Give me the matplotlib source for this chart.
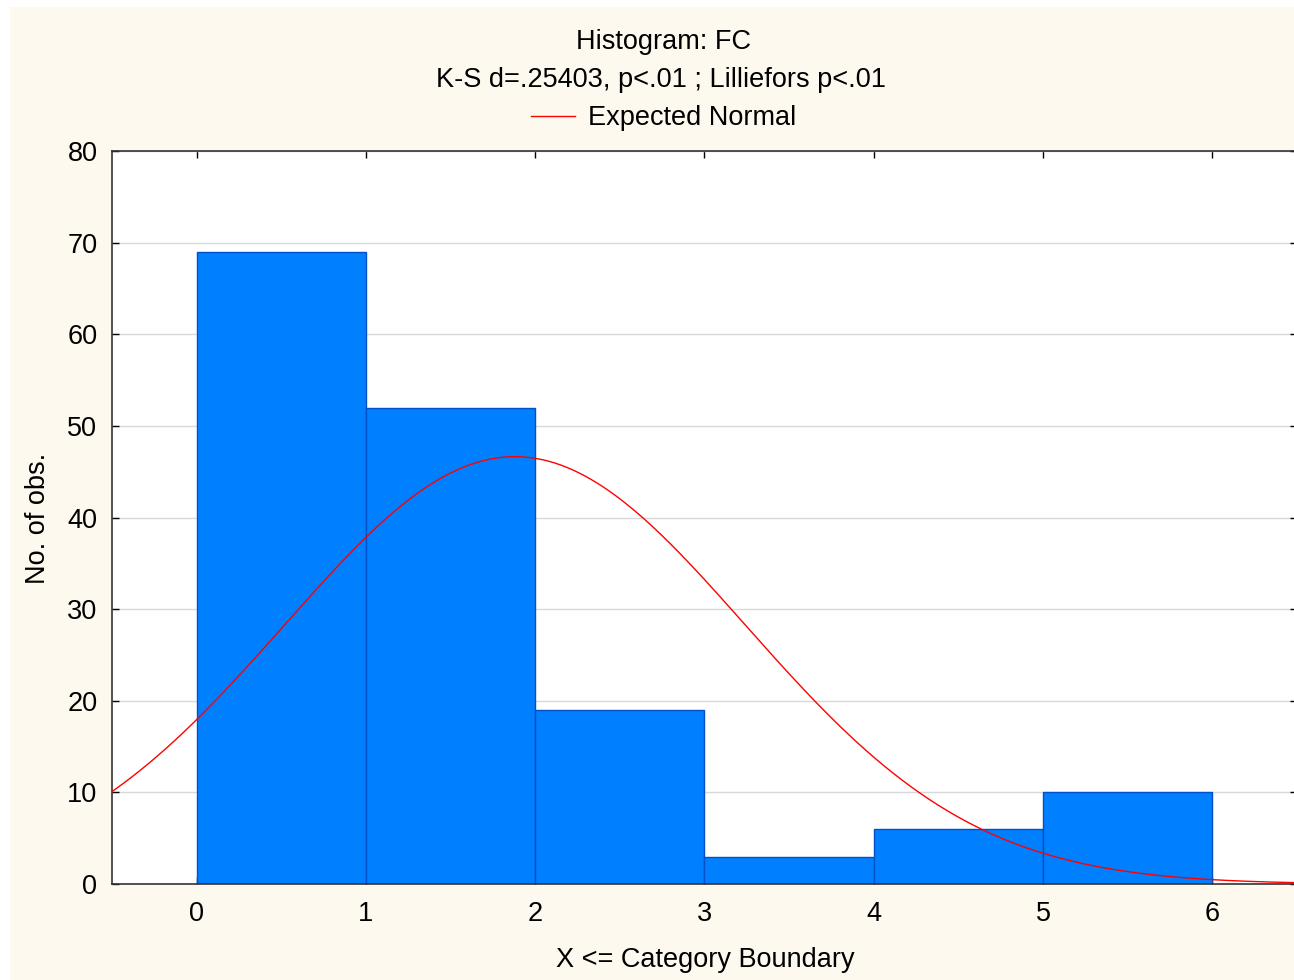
import numpy as np
import matplotlib.pyplot as plt
from matplotlib.patches import Rectangle

# histogram data: counts per category (X <= boundary)
bin_edges = [0, 1, 2, 3, 4, 5, 6]
counts = [69, 52, 19, 3, 6, 10]

# expected normal parameters
n_obs = 159
mean_fc = 1.88
sd_fc = 1.36

title_lines = ['Histogram: FC', 'K-S d=.25403, p<.01 ; Lilliefors p<.01']
y_ticks = [0, 10, 20, 30, 40, 50, 60, 70, 80]
x_ticks = [0, 1, 2, 3, 4, 5, 6]

plt.rcParams['font.family'] = ['Liberation Sans', 'DejaVu Sans']
plt.rcParams['font.size'] = 19.5

fig = plt.figure(figsize=(12.94, 9.8), dpi=100)
fig.patch.set_facecolor('white')
# cream panel behind everything
fig.patches.append(Rectangle((10 / 1294, 0), 1, 1 - 7 / 980, transform=fig.transFigure,
                             facecolor='#FEF9EF', edgecolor='none', zorder=-10))

ax = fig.add_axes([112 / 1294, 96 / 980, 1185 / 1294, 733 / 980])
ax.set_facecolor('white')

widths = np.diff(bin_edges)
ax.bar(bin_edges[:-1], counts, width=widths, align='edge',
       color='#0080FF', edgecolor='#0050C8', linewidth=1.0, zorder=2)

xs = np.linspace(-0.5, 6.5, 400)
binw = widths[0]
ys = n_obs * binw / (sd_fc * np.sqrt(2 * np.pi)) * np.exp(-0.5 * ((xs - mean_fc) / sd_fc) ** 2)
line, = ax.plot(xs, ys, color='red', linewidth=1.0, zorder=3)

ax.set_xlim(-0.5, 6.5)
ax.set_ylim(0, 80)
ax.set_xticks(x_ticks)
ax.set_yticks(y_ticks)
ax.yaxis.grid(True, color='#D8D8D8', linewidth=1.0, zorder=0)
ax.set_axisbelow(True)
ax.tick_params(direction='in', length=5, width=1, top=True, right=True, colors='black')
ax.tick_params(axis='x', pad=12)
ax.tick_params(axis='y', pad=10.5)
for s in ax.spines.values():
    s.set_color('#333333')
    s.set_linewidth(1.2)

fig.text(705 / 1294, 1 - 960 / 980, 'X <= Category Boundary', ha='center', va='center')
fig.text(38 / 1294, 1 - 518 / 980, 'No. of obs.', ha='center', va='center', rotation=90)

fig.text(663 / 1294, 1 - 42 / 980, title_lines[0], ha='center', va='center')
fig.text(661 / 1294, 1 - 80 / 980, title_lines[1], ha='center', va='center')
fig.legend([line], ['Expected Normal'], loc='center', bbox_to_anchor=(664 / 1294, 1 - 118 / 980),
           frameon=False, handlelength=1.6, handletextpad=0.5, borderpad=0)

fig.savefig('out.png', dpi=100, facecolor=fig.get_facecolor())
